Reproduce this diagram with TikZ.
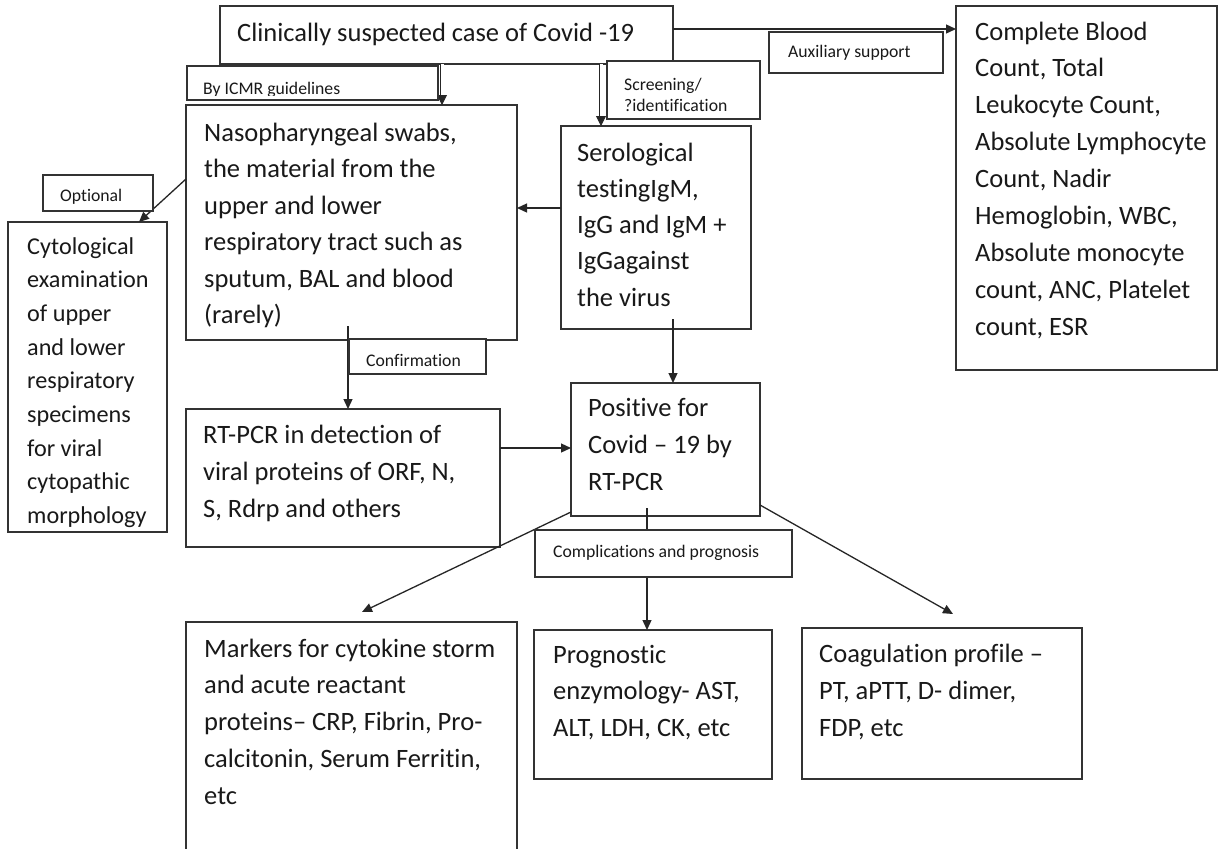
\documentclass[tikz,border=0pt]{standalone}
\usepackage{fontspec}
\setmainfont{Carlito}[Ligatures={NoCommon}]
\usetikzlibrary{arrows.meta}
\newcommand\mkbox[5]{\node[box, minimum width={(#4)-(#2)}, minimum height={(#5)-(#3)}] (#1) at (#2,#3) {};}
\newcommand\lns[1]{\begin{tabular}[t]{@{}l@{}}#1\end{tabular}}
\begin{document}
\begin{tikzpicture}[x=1pt,y=-1pt,
  box/.style={draw=black!80, line width=1.2pt, fill=white, inner sep=0pt, outer sep=0pt, anchor=north west},
  txt/.style={anchor=base west, inner sep=0pt, text=black!90, font=\fontsize{26.5}{36.75}\selectfont},
  lbl/.style={anchor=base west, inner sep=0pt, text=black!90, font=\fontsize{17.7}{21}\selectfont},
  arr/.style={draw=black!85, line width=1.3pt, -{Triangle[length=10pt,width=9pt]}},
  dbl/.style={draw=black!85, line width=0.9pt, double distance=3pt, -{Triangle[length=10pt,width=10pt]}}]
\fill[white] (0,0) rectangle (1219,849);
\clip (0,0) rectangle (1219,849);
% main boxes
\mkbox{top}{220}{6}{673}{64}
\node[txt] (top-t) at (237,41) {Clinically suspected case of Covid -19};
\mkbox{cbc}{956}{6}{1217}{370}
\node[txt, font=\fontsize{26.5}{36.9}\selectfont] (cbc-t) at (975,40) {\lns{Complete Blood\\Count, Total\\Leukocyte Count,\\Absolute Lymphocyte\\Count, Nadir\\Hemoglobin, WBC,\\Absolute monocyte\\count, ANC, Platelet\\count, ESR}};
\mkbox{naso}{186}{105}{517}{340}
\node[txt, font=\fontsize{26.5}{36.5}\selectfont] (naso-t) at (204,141) {\lns{Nasopharyngeal swabs,\\the material from the\\upper and lower\\respiratory tract such as\\sputum, BAL and blood\\(rarely)}};
\mkbox{sero}{561}{126}{751}{329}
\node[txt, font=\fontsize{26.5}{36.25}\selectfont] (sero-t) at (577,161) {\lns{Serological\\testingIgM,\\IgG and IgM +\\IgGagainst\\the virus}};
\mkbox{cyto}{8}{222}{167}{532}
\node[txt, font=\fontsize{24.2}{33.7}\selectfont] (cyto-t) at (27,254) {\lns{Cytological\\examination\\of upper\\and lower\\respiratory\\specimens\\for viral\\cytopathic\\morphology}};
\mkbox{rt}{186}{409}{500}{547}
\node[txt, font=\fontsize{26.5}{37}\selectfont] (rt-t) at (203,443) {\lns{RT-PCR in detection of\\viral proteins of ORF, N,\\S, Rdrp and others}};
\mkbox{pos}{571}{383}{760}{516}
\node[txt, font=\fontsize{26.5}{37}\selectfont] (pos-t) at (588,416) {\lns{Positive for\\Covid – 19 by\\RT-PCR}};
\mkbox{mark}{186}{622}{517}{860}
\node[txt] (mark-t) at (204,657) {\lns{Markers for cytokine storm\\and acute reactant\\proteins– CRP, Fibrin, Pro-\\calcitonin, Serum Ferritin,\\etc}};
\mkbox{prog}{534}{630}{772}{779}
\node[txt] (prog-t) at (553,663) {\lns{Prognostic\\enzymology- AST,\\ALT, LDH, CK, etc}};
\mkbox{coag}{802}{628}{1082}{779}
\node[txt, font=\fontsize{26.5}{37}\selectfont] (coag-t) at (819,662) {\lns{Coagulation profile –\\PT, aPTT, D- dimer,\\FDP, etc}};
% free ends
\coordinate (c6) at (348,326);
\coordinate (c7) at (673,319);
\coordinate (c10) at (647,508);
\coordinate (mk) at (362,612);
\coordinate (cg) at (953,614);
% connectors
\draw[arr] (top.east |- 0,29) -- (cbc.west |- 0,29);
\draw[dbl] (top.south -| 442,0) -- (naso.north -| 442,0);
\draw[dbl] (top.south -| 601,0) -- (sero.north -| 601,0);
\draw[arr] (sero.west |- 0,208) -- (naso.east |- 0,208);
\draw[arr] (naso.west |- 0,179) -- (cyto.north -| 139,0);
\draw[arr] (c6) -- (rt.north -| c6);
\draw[arr] (c7) -- (pos.north -| c7);
\draw[arr] (rt.east |- 0,448) -- (pos.west |- 0,448);
\draw[arr] (pos.west |- 0,512) -- (mk);
\draw[arr] (c10) -- (prog.north -| c10);
\draw[arr] (pos.east |- 0,505) -- (cg);
% label boxes
\mkbox{icmr}{187}{66}{438}{100}
\begin{scope}
\clip (187,66) rectangle (438,95.6);
\node[lbl] (icmr-t) at (203,94.4) {By ICMR guidelines};
\end{scope}
\mkbox{scr}{607}{61}{760}{119}
\node[lbl] (scr-t) at (624,90) {\lns{Screening/\\?identification}};
\mkbox{aux}{769}{32}{943}{73}
\node[lbl] (aux-t) at (788,57) {Auxiliary support};
\mkbox{opt}{43}{175}{153}{211}
\begin{scope}
\clip (43,175) rectangle (153,203);
\node[lbl] (opt-t) at (60,201.5) {Optional};
\end{scope}
\mkbox{conf}{349}{339}{486}{374}
\node[lbl] (conf-t) at (366,366) {Confirmation};
\mkbox{comp}{535}{530}{792}{577}
\node[lbl] (comp-t) at (553,557) {Complications and prognosis};
\end{tikzpicture}
\end{document}
